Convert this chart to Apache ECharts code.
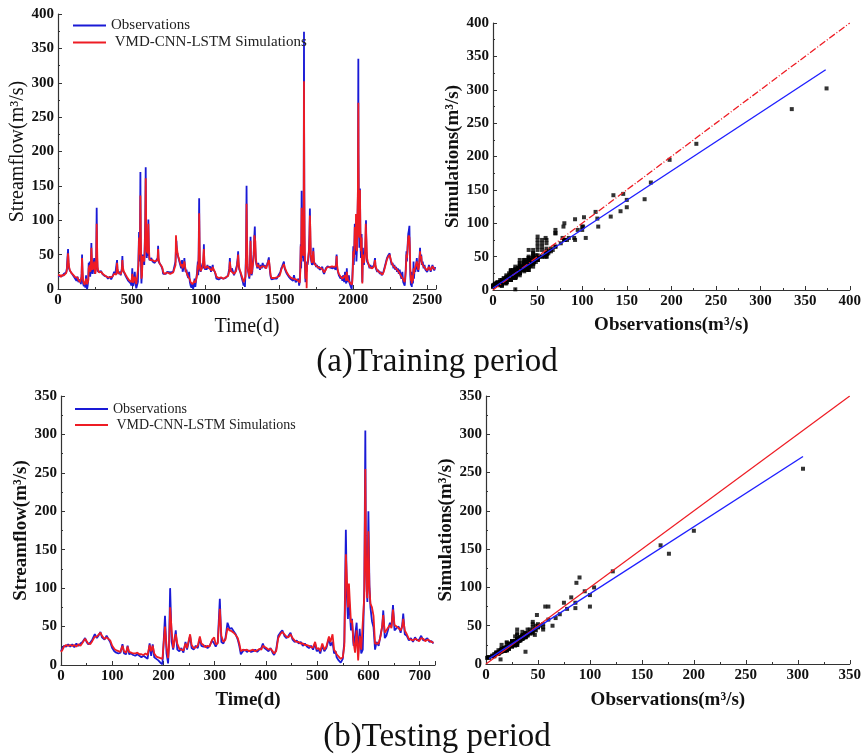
<!DOCTYPE html>
<html>
<head>
<meta charset="utf-8">
<script src="https://cdn.jsdelivr.net/npm/echarts@6/dist/echarts.min.js"></script>
<style>
  html, body { margin: 0; padding: 0; background: #fff; }
  #chart { width: 864px; height: 755px; }
</style>
</head>
<body>
<div id="chart"></div>
<script>
const trainFlow = [
  [0,18,20],[5,20,19],[10,17,19],[15,19,20],[20,18,17],[25,21,20],[30,19,21],[35,20,19],[40,22,20],[45,20,22],
  [50,21,20],[55,24,23],[60,30,27],[64,45,40],[68,58,52],[71,38,42],[75,30,32],[80,27,28],[88,25,24],[95,22,23],
  [102,20,21],[110,17,19],[118,15,17],[125,12,15],[132,18,17],[138,10,13],[145,8,12],[150,14,10],[155,7,10],[160,22,18],
  [163,50,45],[166,20,28],[170,8,12],[175,4,9],[180,10,6],[185,2,8],[190,20,15],[193,3,10],[197,0,7],[201,5,9],
  [205,15,12],[208,38,30],[211,25,32],[215,40,35],[218,18,25],[222,30,28],[226,67,60],[229,35,45],[233,22,28],[237,30,26],
  [241,28,32],[245,45,40],[248,22,30],[252,20,22],[256,30,26],[259,50,45],[262,118,95],[265,45,60],[268,28,32],[272,25,27],
  [278,23,24],[285,24,22],[292,26,25],[300,22,24],[308,20,21],[315,19,20],[322,17,19],[330,18,17],[338,15,17],[345,16,15],
  [352,18,17],[360,14,16],[368,16,18],[373,20,18],[380,25,22],[388,22,24],[395,20,21],[400,42,38],[403,25,30],[410,22,23],
  [418,25,24],[425,20,22],[432,30,26],[436,48,42],[439,28,32],[445,25,26],[452,22,24],[460,18,20],[468,15,17],[475,12,15],
  [480,10,13],[486,14,12],[492,8,11],[498,5,10],[503,30,22],[506,12,18],[510,4,9],[515,2,8],[520,25,18],[524,10,14],
  [530,1,7],[536,0,5],[541,10,8],[545,45,35],[549,83,75],[552,40,50],[555,60,55],[558,170,136],[561,50,75],[565,8,15],
  [569,25,20],[573,50,48],[576,40,45],[580,48,45],[584,35,40],[587,60,55],[591,100,90],[594,177,161],[597,80,100],[601,45,55],
  [605,60,55],[609,48,52],[612,101,95],[615,55,65],[619,42,45],[625,40,42],[632,45,43],[640,40,42],[648,42,40],[655,38,40],
  [662,40,38],[668,36,38],[675,45,42],[678,63,58],[681,40,45],[688,38,37],[695,35,36],[702,32,33],[708,28,30],[712,22,25],
  [720,24,22],[730,22,23],[740,25,24],[750,23,24],[760,24,22],[770,22,24],[780,25,24],[790,26,25],[796,40,35],[799,59,78],
  [802,70,65],[805,55,60],[810,50,52],[816,48,46],[822,40,42],[828,35,38],[834,30,33],[840,42,36],[844,25,30],[850,30,28],
  [856,45,40],[859,35,38],[864,25,28],[870,28,24],[876,20,22],[882,16,18],[888,25,20],[893,10,14],[898,5,10],[904,2,8],
  [910,8,7],[915,0,5],[920,5,8],[925,15,12],[930,3,9],[936,2,7],[942,25,20],[947,40,35],[950,20,28],[953,58,50],
  [956,132,110],[959,50,65],[962,28,32],[966,25,26],[970,30,28],[975,28,30],[980,38,33],[984,30,34],[988,65,58],[991,35,42],
  [995,28,30],[1000,32,30],[1006,28,30],[1012,35,33],[1018,30,32],[1024,28,30],[1030,33,30],[1036,25,28],[1042,30,27],[1048,35,32],
  [1051,28,32],[1056,30,28],[1062,25,27],[1068,20,22],[1073,15,18],[1080,16,16],[1088,14,16],[1096,15,15],[1104,16,17],[1112,14,16],
  [1120,15,15],[1128,17,17],[1136,16,17],[1144,18,18],[1152,20,19],[1160,30,26],[1164,45,40],[1167,30,34],[1172,25,26],[1178,30,28],
  [1185,25,27],[1192,20,22],[1200,25,23],[1206,30,26],[1212,35,33],[1217,45,42],[1220,55,50],[1223,35,40],[1228,28,30],[1234,25,26],
  [1240,20,22],[1246,15,18],[1252,10,14],[1257,5,10],[1262,8,8],[1266,3,9],[1270,25,18],[1274,60,50],[1277,150,124],[1280,55,75],
  [1284,30,35],[1288,25,26],[1292,20,23],[1296,15,18],[1300,35,30],[1304,76,70],[1307,30,45],[1311,20,22],[1316,25,24],[1320,40,35],
  [1325,50,45],[1330,78,78],[1333,91,78],[1336,60,70],[1340,40,45],[1345,35,36],[1350,30,32],[1356,38,35],[1362,32,34],[1368,28,30],
  [1374,35,32],[1380,30,33],[1386,38,35],[1392,32,34],[1398,35,33],[1404,30,32],[1410,33,30],[1416,36,34],[1422,40,38],[1428,46,42],
  [1431,35,38],[1436,25,28],[1440,18,20],[1446,14,16],[1452,16,15],[1458,13,15],[1464,15,16],[1470,14,15],[1476,17,16],[1482,15,17],
  [1488,18,17],[1494,16,18],[1500,20,19],[1506,25,23],[1512,30,28],[1518,33,31],[1524,35,33],[1530,40,36],[1533,32,35],[1538,28,30],
  [1544,25,27],[1550,22,24],[1556,20,22],[1562,18,20],[1568,16,18],[1574,15,17],[1580,13,16],[1586,15,15],[1592,12,15],[1598,20,16],
  [1604,14,16],[1610,10,14],[1616,12,12],[1622,8,12],[1628,15,12],[1633,5,10],[1637,10,9],[1641,30,25],[1644,65,62],[1647,30,40],
  [1650,143,118],[1653,70,90],[1656,45,50],[1659,60,55],[1662,40,48],[1664,115,117],[1666,374,302],[1667,228,219],[1668,150,135],[1670,50,80],
  [1673,30,40],[1676,10,15],[1679,25,20],[1682,30,28],[1684,25,1],[1687,40,35],[1690,35,38],[1695,42,40],[1700,60,55],[1703,80,75],
  [1706,117,107],[1709,70,85],[1712,45,50],[1716,40,42],[1720,35,38],[1725,40,38],[1729,60,55],[1732,40,45],[1736,35,37],[1742,38,35],
  [1748,32,34],[1754,35,33],[1760,30,32],[1766,33,31],[1772,28,30],[1778,30,29],[1784,28,30],[1790,32,30],[1796,25,27],[1802,22,24],
  [1808,26,24],[1814,30,28],[1820,32,31],[1826,33,32],[1832,32,33],[1838,33,32],[1844,31,33],[1850,33,32],[1856,32,33],[1862,30,31],
  [1868,33,32],[1874,31,32],[1880,28,30],[1884,40,35],[1887,50,48],[1890,30,35],[1896,25,26],[1902,20,22],[1908,22,20],[1914,15,18],
  [1920,18,17],[1926,12,15],[1932,20,16],[1938,10,14],[1944,25,20],[1948,12,16],[1952,8,12],[1956,30,25],[1959,15,20],[1964,10,13],
  [1970,20,15],[1975,8,11],[1980,5,9],[1985,3,8],[1989,0,6],[1993,15,10],[1997,40,30],[2000,62,55],[2003,35,45],[2007,60,58],
  [2010,95,90],[2013,50,70],[2016,70,65],[2018,102,109],[2021,40,60],[2025,60,55],[2028,92,106],[2031,135,142],[2034,335,271],[2035,198,195],
  [2038,104,78],[2041,60,75],[2045,146,144],[2048,70,85],[2052,45,55],[2056,80,75],[2059,25,35],[2061,10,8],[2065,60,50],[2068,40,48],
  [2072,35,38],[2077,50,45],[2081,60,62],[2084,79,95],[2086,100,95],[2089,55,70],[2093,40,45],[2098,38,40],[2104,35,36],[2110,30,32],
  [2116,35,33],[2122,30,31],[2128,28,30],[2134,30,28],[2140,35,33],[2147,45,42],[2150,32,35],[2156,28,30],[2162,25,27],[2168,28,26],
  [2174,25,27],[2180,22,24],[2186,25,23],[2192,20,22],[2198,22,21],[2204,25,24],[2210,30,28],[2216,35,33],[2222,40,38],[2228,45,43],
  [2234,48,46],[2240,50,48],[2246,52,50],[2250,45,48],[2255,40,42],[2260,35,38],[2266,38,35],[2272,30,33],[2278,35,32],[2284,28,31],
  [2290,32,30],[2296,25,28],[2302,30,27],[2308,22,25],[2314,28,26],[2320,20,23],[2326,15,18],[2332,25,20],[2338,10,14],[2344,8,12],
  [2348,5,10],[2352,15,12],[2356,35,28],[2360,55,50],[2363,40,45],[2367,60,55],[2372,80,75],[2376,85,78],[2380,92,75],[2383,50,60],
  [2386,20,30],[2390,5,12],[2393,25,20],[2396,3,8],[2400,20,15],[2404,8,12],[2408,40,30],[2411,15,22],[2415,30,28],[2420,25,27],
  [2426,35,30],[2430,45,40],[2434,30,35],[2440,25,28],[2446,38,34],[2452,60,55],[2455,40,45],[2460,50,48],[2464,35,38],[2470,40,38],
  [2476,30,33],[2482,35,32],[2488,28,30],[2494,30,29],[2500,25,27],[2506,28,26],[2512,35,32],[2518,30,33],[2524,25,27],[2530,30,28],
  [2536,35,33],[2542,30,32],[2548,27,29],[2555,32,30]
];

const testFlow = [
  [0,18,17],[3,22,20],[6,25,24],[10,24,26],[14,27,25],[18,24,26],[22,27,25],[26,23,26],[30,28,24],[34,25,27],
  [38,28,25],[42,30,29],[47,35,34],[50,30,32],[53,27,28],[57,29,27],[61,33,31],[66,40,37],[70,35,37],[73,38,36],
  [77,43,42],[80,36,38],[85,33,34],[89,38,36],[92,36,38],[96,30,32],[100,22,25],[104,18,21],[108,16,19],[112,15,18],
  [116,16,17],[120,27,25],[123,15,18],[127,14,16],[130,25,24],[133,14,17],[137,15,16],[141,13,15],[145,12,15],[149,14,16],
  [153,12,14],[157,10,14],[161,12,13],[165,10,15],[169,8,13],[173,28,26],[176,12,18],[179,27,25],[182,10,15],[186,8,11],
  [190,6,10],[194,3,9],[198,1,8],[203,64,50],[206,15,25],[209,2,9],[211,30,25],[213,100,75],[216,30,45],[219,20,22],
  [222,18,21],[224,45,40],[227,20,28],[231,18,21],[235,22,20],[239,16,19],[243,30,28],[246,20,22],[249,22,24],[252,38,40],
  [255,22,26],[259,20,22],[263,25,23],[267,22,25],[271,35,37],[274,25,28],[278,24,26],[282,25,23],[286,22,25],[290,25,24],
  [295,32,33],[299,28,36],[302,24,27],[306,30,28],[310,86,73],[313,30,38],[317,28,30],[321,35,33],[325,55,48],[329,47,45],
  [333,48,44],[337,44,42],[341,40,39],[345,33,35],[348,25,28],[351,14,18],[355,18,20],[359,20,19],[363,17,20],[367,19,18],
  [371,17,19],[375,18,20],[379,20,18],[383,17,19],[387,20,21],[391,22,20],[394,28,25],[397,22,24],[401,20,22],[405,18,20],
  [409,22,21],[413,16,18],[416,13,15],[420,20,18],[424,38,35],[428,42,40],[432,45,43],[436,38,40],[440,35,37],[444,38,36],
  [448,42,40],[452,33,35],[456,30,32],[460,32,30],[464,28,30],[468,30,28],[472,25,28],[476,28,26],[480,24,26],[484,22,25],
  [488,25,23],[492,20,23],[496,28,30],[499,18,21],[503,20,22],[506,15,18],[510,25,28],[514,18,20],[518,22,24],[523,35,37],
  [526,25,30],[530,30,40],[533,15,20],[536,18,17],[538,10,14],[542,6,11],[546,3,8],[550,8,10],[553,30,25],[556,176,144],
  [558,90,113],[560,60,75],[562,87,106],[564,86,80],[566,45,55],[568,60,58],[571,25,30],[574,38,16],[577,55,45],[580,14,6],
  [583,47,38],[586,15,20],[589,20,18],[592,100,90],[594,305,255],[595,168,155],[596,122,121],[597,95,95],[598,82,87],[600,200,174],
  [602,104,100],[604,75,80],[607,57,75],[610,49,64],[613,20,28],[616,30,30],[620,25,28],[624,40,38],[627,50,52],[629,71,65],
  [632,35,42],[635,38,40],[638,45,48],[642,55,52],[645,50,48],[648,78,72],[651,45,52],[655,48,50],[659,50,48],[663,42,45],
  [666,52,50],[668,67,60],[671,40,45],[675,38,40],[679,32,34],[683,35,33],[687,30,32],[691,36,34],[695,32,33],[699,33,31],
  [703,38,35],[707,32,34],[711,33,31],[715,35,33],[719,30,32],[723,31,30],[727,28,29]
];

// fitted regression lines and 1:1 lines: [x, y] end points
const trainFit = [[0, 3], [373, 330]];
const trainOneToOne = [[0, 0], [400, 400]];
const testFit = [[3, 7], [305, 271]];
const testOneToOne = [[0, 0], [350, 350]];

const captions = ['(a)Training period', '(b)Testing period'];
const obsName = 'Observations';
const simName = 'VMD-CNN-LSTM Simulations';

const serif = '"Liberation Serif", "Times New Roman", serif';
const blue = '#1a1ad6';
const red = '#ee1c24';

function valueAxis(gridIndex, min, max, interval, name, nameGap, bold, nameSize) {
  return {
    type: 'value',
    gridIndex: gridIndex,
    min: min,
    max: max,
    interval: interval,
    name: name,
    nameLocation: 'middle',
    nameGap: nameGap,
    nameTextStyle: {
      fontFamily: serif,
      fontSize: nameSize,
      fontWeight: bold ? 'bold' : 'normal',
      color: '#111'
    },
    axisLine: { show: true, lineStyle: { color: '#333', width: 1.2 } },
    axisTick: { show: true, inside: true, length: 4, lineStyle: { color: '#333' } },
    minorTick: { show: true, splitNumber: 2, length: 2, lineStyle: { color: '#333' } },
    splitLine: { show: false },
    axisLabel: {
      fontFamily: serif,
      fontSize: 15,
      fontWeight: 'bold',
      color: '#111',
      margin: 4,
      showMaxLabel: max % interval === 0,
      formatter: function (v) { return String(v); }
    }
  };
}

const chart = echarts.init(document.getElementById('chart'));

const option = {
  backgroundColor: '#fff',
  animation: false,
  grid: [
    { left: 58, top: 14, width: 378, height: 275 },
    { left: 493, top: 23, width: 361, height: 267 },
    { left: 61, top: 396, width: 374, height: 269 },
    { left: 486, top: 396, width: 364, height: 268 }
  ],
  xAxis: [
    valueAxis(0, 0, 2560, 500, 'Time(d)', 28, false, 20),
    valueAxis(1, 0, 400, 50, 'Observations(m³/s)', 26, true, 19),
    valueAxis(2, 0, 730, 100, 'Time(d)', 26, true, 19),
    valueAxis(3, 0, 350, 50, 'Observations(m³/s)', 27, true, 19)
  ],
  yAxis: [
    valueAxis(0, 0, 400, 50, 'Streamflow(m³/s)', 30, false, 20),
    valueAxis(1, 0, 400, 50, 'Simulations(m³/s)', 28, true, 19),
    valueAxis(2, 0, 350, 50, 'Streamflow(m³/s)', 29, true, 19),
    valueAxis(3, 0, 350, 50, 'Simulations(m³/s)', 28, true, 19)
  ],
  legend: [
    {
      left: 68, top: 13, orient: 'vertical', itemGap: 2,
      itemWidth: 33, itemHeight: 2, icon: 'rect',
      data: [obsName, simName],
      formatter: function (n) { return n === simName ? ' ' + n : n; },
      textStyle: { fontFamily: serif, fontSize: 15, color: '#222' }
    },
    {
      left: 70, top: 397, orient: 'vertical', itemGap: 2,
      itemWidth: 33, itemHeight: 2, icon: 'rect',
      data: [obsName, simName],
      formatter: function (n) { return n === simName ? ' ' + n : n; },
      textStyle: { fontFamily: serif, fontSize: 14, color: '#222' }
    }
  ],
  graphic: [
    {
      type: 'text', x: 437, y: 362,
      style: {
        text: captions[0], fontFamily: serif, fontSize: 33, fill: '#111',
        align: 'center', verticalAlign: 'middle', textAlign: 'center', textVerticalAlign: 'middle'
      }
    },
    {
      type: 'text', x: 437, y: 737,
      style: {
        text: captions[1], fontFamily: serif, fontSize: 33, fill: '#111',
        align: 'center', verticalAlign: 'middle', textAlign: 'center', textVerticalAlign: 'middle'
      }
    }
  ],
  series: [
    {
      name: obsName, type: 'line', xAxisIndex: 0, yAxisIndex: 0,
      showSymbol: false, symbol: 'none', color: blue,
      lineStyle: { color: blue, width: 1.8 },
      data: trainFlow.map(function (d) { return [d[0], d[1]]; })
    },
    {
      name: simName, type: 'line', xAxisIndex: 0, yAxisIndex: 0,
      showSymbol: false, symbol: 'none', color: red,
      lineStyle: { color: red, width: 1.8 },
      data: trainFlow.map(function (d) { return [d[0], d[2]]; })
    },
    {
      type: 'scatter', xAxisIndex: 1, yAxisIndex: 1,
      symbol: 'rect', symbolSize: 4, itemStyle: { color: '#000' },
      data: trainFlow.map(function (d) { return [d[1], d[2]]; })
    },
    {
      type: 'line', xAxisIndex: 1, yAxisIndex: 1, z: 5,
      showSymbol: false, symbol: 'none',
      lineStyle: { color: red, width: 1.3, type: [7, 2, 1, 2] },
      data: trainOneToOne
    },
    {
      type: 'line', xAxisIndex: 1, yAxisIndex: 1, z: 5,
      showSymbol: false, symbol: 'none',
      lineStyle: { color: '#1f1fff', width: 1.4 },
      data: trainFit
    },
    {
      name: obsName, type: 'line', xAxisIndex: 2, yAxisIndex: 2,
      showSymbol: false, symbol: 'none', color: blue,
      lineStyle: { color: blue, width: 1.8 },
      data: testFlow.map(function (d) { return [d[0], d[1]]; })
    },
    {
      name: simName, type: 'line', xAxisIndex: 2, yAxisIndex: 2,
      showSymbol: false, symbol: 'none', color: red,
      lineStyle: { color: red, width: 1.8 },
      data: testFlow.map(function (d) { return [d[0], d[2]]; })
    },
    {
      type: 'scatter', xAxisIndex: 3, yAxisIndex: 3,
      symbol: 'rect', symbolSize: 4, itemStyle: { color: '#000' },
      data: testFlow.map(function (d) { return [d[1], d[2]]; })
    },
    {
      type: 'line', xAxisIndex: 3, yAxisIndex: 3, z: 5,
      showSymbol: false, symbol: 'none',
      lineStyle: { color: red, width: 1.2 },
      data: testOneToOne
    },
    {
      type: 'line', xAxisIndex: 3, yAxisIndex: 3, z: 5,
      showSymbol: false, symbol: 'none',
      lineStyle: { color: '#1f1fff', width: 1.4 },
      data: testFit
    }
  ]
};

chart.setOption(option);
</script>
</body>
</html>
